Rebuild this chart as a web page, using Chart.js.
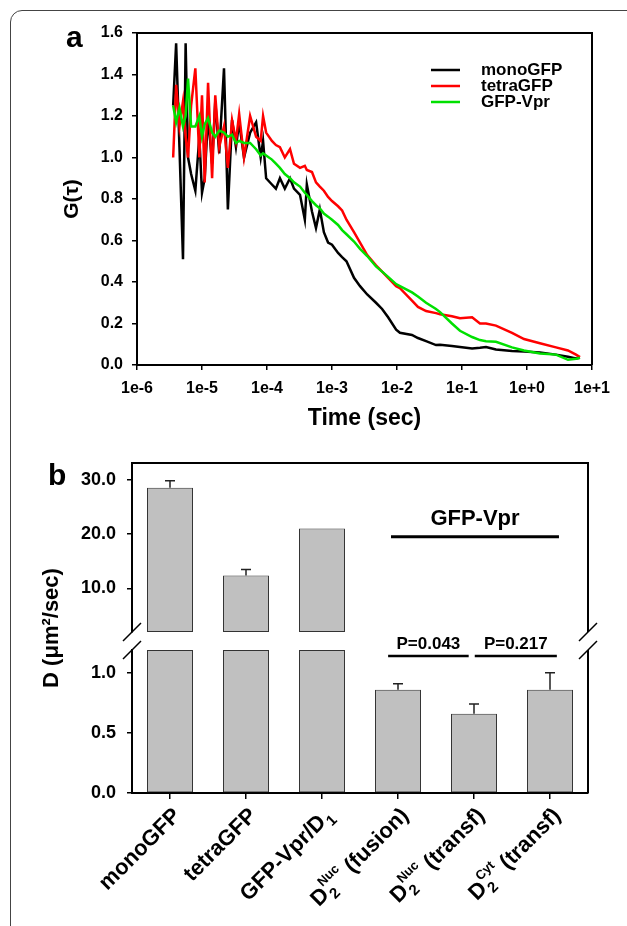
<!DOCTYPE html>
<html><head><meta charset="utf-8">
<script src="https://cdn.jsdelivr.net/npm/chart.js@4.4.1/dist/chart.umd.min.js"></script>
<style>
html,body{margin:0;padding:0;background:#fff;}
body{width:627px;height:926px;position:relative;overflow:hidden;}
#frame{position:absolute;left:10px;top:10px;width:700px;height:1000px;border:1px solid #444;border-radius:12px;box-sizing:border-box;}
#ca{position:absolute;left:0;top:0;width:627px;height:440px;}
#cb{position:absolute;left:0;top:440px;width:627px;height:486px;}
</style></head><body>
<div id="frame"></div>
<canvas id="ca" width="627" height="440"></canvas>
<canvas id="cb" width="627" height="486"></canvas>
<script>
// ---------- Panel a data ----------
const seriesNames = ['monoGFP', 'tetraGFP', 'GFP-Vpr'];
const lagTimes = [3.6e-6, 4.0e-6, 4.5e-6, 5.1e-6, 5.6e-6, 6.1e-6, 6.8e-6, 7.9e-6, 9.1e-6, 1.0e-5,
  1.1e-5, 1.24e-5, 1.43e-5, 1.6e-5, 1.84e-5, 2.18e-5, 2.5e-5, 2.9e-5, 3.33e-5, 3.73e-5,
  4.43e-5, 5.5e-5, 6.8e-5, 8.0e-5, 8.7e-5, 9.7e-5, 1.19e-4, 1.37e-4, 1.58e-4, 1.88e-4,
  2.26e-4, 2.6e-4, 3.22e-4, 3.82e-4, 4.1e-4, 4.92e-4, 5.67e-4, 6.5e-4, 7.5e-4, 8.7e-4,
  1.0e-3, 1.24e-3, 1.43e-3, 1.67e-3, 2.18e-3, 2.7e-3, 3.48e-3, 4.75e-3, 5.9e-3, 7.3e-3,
  9.7e-3, 1.11e-2, 1.7e-2, 2.1e-2, 2.8e-2, 3.98e-2, 4.6e-2, 7.0e-2, 9.3e-2, 0.143,
  0.189, 0.234, 0.333, 0.588, 0.9, 1.58, 2.79, 4.27, 5.67, 6.53];
const gMono = [1.25, 1.55, 1.05, 0.51, 1.55, 1.0, 0.92, 0.84, 1.1, 0.83,
  0.9, 1.2, 0.97, 1.27, 1.02, 1.43, 0.75, 1.18, 1.05, 1.17,
  1.0, 1.12, 1.17, 1.0, 1.08, 0.9, 0.87, 0.85, 0.9, 0.85,
  0.9, 0.85, 0.82, 0.7, 0.87, 0.74, 0.66, 0.75, 0.64, 0.59,
  0.58, 0.54, 0.52, 0.5, 0.42, 0.38, 0.34, 0.3, 0.27, 0.23,
  0.17, 0.155, 0.145, 0.13, 0.115, 0.096, 0.098, 0.092, 0.087, 0.08,
  0.083, 0.087, 0.075, 0.068, 0.065, 0.06, 0.05, 0.04, 0.032, 0.035];
const gTetra = [1.0, 1.35, 1.15, 1.27, 1.1, 1.0, 1.25, 1.43, 1.0, 1.3,
  0.88, 1.36, 0.9, 1.3, 1.05, 1.15, 0.95, 1.18, 1.08, 1.21,
  1.0, 1.2, 1.1, 1.08, 1.2, 1.12, 1.08, 1.06, 1.05, 1.0,
  1.04, 0.97, 0.95, 0.96, 0.94, 0.93, 0.88, 0.86, 0.84, 0.81,
  0.79, 0.765, 0.745, 0.70, 0.64, 0.59, 0.53, 0.48, 0.45, 0.42,
  0.38, 0.37, 0.31, 0.28, 0.26, 0.25, 0.245, 0.235, 0.225, 0.23,
  0.2, 0.2, 0.19, 0.155, 0.125, 0.105, 0.085, 0.07, 0.05, 0.038];
const gVpr = [1.25, 1.17, 1.24, 1.15, 1.2, 1.38, 1.15, 1.15, 1.2, 1.1,
  1.16, 1.19, 1.12, 1.1, 1.13, 1.12, 1.1, 1.11, 1.07, 1.08,
  1.07, 1.07, 1.04, 1.01, 1.02, 1.01, 0.99, 0.97, 0.95, 0.92,
  0.9, 0.88, 0.86, 0.83, 0.82, 0.79, 0.77, 0.755, 0.73, 0.715,
  0.70, 0.675, 0.65, 0.63, 0.595, 0.56, 0.525, 0.475, 0.45, 0.425,
  0.39, 0.38, 0.35, 0.33, 0.30, 0.27, 0.255, 0.2, 0.165, 0.135,
  0.12, 0.115, 0.112, 0.085, 0.07, 0.055, 0.05, 0.025, 0.03, 0.035];
const timeTicks = [1e-6, 1e-5, 1e-4, 1e-3, 1e-2, 1e-1, 1e0, 1e1];
const timeTickLabels = ['1e-6', '1e-5', '1e-4', '1e-3', '1e-2', '1e-1', '1e+0', '1e+1'];
const gTicks = [0, 0.2, 0.4, 0.6, 0.8, 1.0, 1.2, 1.4, 1.6];

// ---------- Panel b data ----------
const categories = ['monoGFP', 'tetraGFP', 'GFP-Vpr/D_{1}', 'D_{2}^{Nuc} (fusion)', 'D_{2}^{Nuc} (transf)', 'D_{2}^{Cyt} (transf)'];
const diffValues = [28.5, 12.4, 21.0, 0.86, 0.66, 0.86];
const diffErrors = [1.3, 1.1, null, 0.05, 0.08, 0.14];
const upperTicks = [10, 20, 30];
const lowerTicks = [0, 0.5, 1.0];
const groupLabel = 'GFP-Vpr';
const pLabels = ['P=0.043', 'P=0.217'];
const pPairs = [[3, 4], [4, 5]];

// ---------- common ----------
const FONT = "'Liberation Sans', Arial, Helvetica, sans-serif";
Chart.defaults.font.family = FONT;
Chart.defaults.color = '#000';
const bold = (s) => ({ size: s, weight: 'bold', family: FONT });

// ---------- Panel a ----------
const frameA = {
  id: 'frameA',
  afterDatasetsDraw(chart) {
    const { ctx, chartArea: a } = chart;
    ctx.save();
    ctx.strokeStyle = '#000'; ctx.lineWidth = 2;
    ctx.beginPath();
    ctx.moveTo(a.left, a.top); ctx.lineTo(a.right, a.top); ctx.lineTo(a.right, a.bottom);
    ctx.stroke();
    // legend
    const ds = chart.data.datasets;
    ctx.font = 'bold 17px ' + FONT;
    ctx.textBaseline = 'middle'; ctx.textAlign = 'left';
    ds.forEach((d, i) => {
      const y = a.top + 37 + i * 16;
      ctx.strokeStyle = d.borderColor; ctx.lineWidth = 2.5;
      ctx.beginPath(); ctx.moveTo(a.left + 294, y); ctx.lineTo(a.left + 323, y); ctx.stroke();
      ctx.fillStyle = '#000';
      ctx.fillText(d.label, a.left + 344, y);
    });
    // panel letter
    ctx.font = 'bold 30px ' + FONT;
    ctx.textBaseline = 'alphabetic';
    ctx.fillText('a', 66, 47);
    ctx.restore();
  }
};

const mk = (vals) => lagTimes.map((t, i) => ({ x: t, y: vals[i] }));
new Chart(document.getElementById('ca'), {
  type: 'line',
  data: {
    datasets: [
      { label: seriesNames[0], data: mk(gMono), borderColor: '#000000', borderWidth: 2.5, pointRadius: 0, order: 3 },
      { label: seriesNames[1], data: mk(gTetra), borderColor: '#ff0000', borderWidth: 2.5, pointRadius: 0, order: 2 },
      { label: seriesNames[2], data: mk(gVpr), borderColor: '#00e000', borderWidth: 2.5, pointRadius: 0, order: 1 }
    ]
  },
  options: {
    responsive: false, animation: false, events: [],
    layout: { padding: { top: 33, right: 35, left: 0, bottom: 0 } },
    plugins: { legend: { display: false }, tooltip: { enabled: false } },
    scales: {
      x: {
        type: 'logarithmic', min: 1e-6, max: 10,
        afterBuildTicks(s) { s.ticks = timeTicks.map(v => ({ value: v })); },
        afterFit(s) { s.height = 75; },
        ticks: { callback: (v, i) => timeTickLabels[i], font: bold(16), color: '#000', padding: 9, maxRotation: 0, autoSkip: false },
        grid: { drawOnChartArea: false, tickLength: 5, color: '#000', lineWidth: 1.5 },
        border: { color: '#000', width: 2 },
        title: { display: true, text: 'Time (sec)', font: bold(23), color: '#000', padding: { top: 0, bottom: 8 } }
      },
      y: {
        min: 0, max: 1.6,
        afterBuildTicks(s) { s.ticks = gTicks.map(v => ({ value: v })); },
        afterFit(s) { s.width = 137; },
        ticks: { callback: v => v.toFixed(1), font: bold(16), color: '#000', padding: 9 },
        grid: { drawOnChartArea: false, tickLength: 5, color: '#000', lineWidth: 1.5 },
        border: { color: '#000', width: 2 },
        title: { display: true, text: 'G(τ)', font: bold(21), color: '#000', padding: { top: 60, bottom: 0 } }
      }
    }
  },
  plugins: [frameA]
});

// ---------- Panel b ----------
const upperMin = 2.0, upperMax = 33.05, lowerMax = 1.19;

function parseLabel(s) {
  const segs = [];
  const re = /_\{([^}]*)\}|\^\{([^}]*)\}|([^_^]+)/g;
  let m;
  while ((m = re.exec(s))) {
    if (m[1] !== undefined) segs.push({ sub: m[1] });
    else if (m[2] !== undefined) {
      const last = segs[segs.length - 1];
      if (last && last.sub !== undefined && last.sup === undefined) last.sup = m[2];
      else segs.push({ sup: m[2] });
    } else segs.push({ t: m[3] });
  }
  return segs;
}

const decorB = {
  id: 'decorB',
  afterDatasetsDraw(chart) {
    const { ctx, chartArea: a } = chart;
    const xS = chart.scales.x, yT = chart.scales.yTop, yB = chart.scales.yBot;
    ctx.save();
    ctx.strokeStyle = '#000'; ctx.fillStyle = '#000';
    // frame
    ctx.lineWidth = 2;
    ctx.beginPath();
    ctx.moveTo(a.left - 1, yT.top); ctx.lineTo(a.right, yT.top); ctx.lineTo(a.right, yT.bottom);
    ctx.moveTo(a.right, yB.top); ctx.lineTo(a.right, yB.bottom);
    ctx.stroke();
    // break marks
    ctx.lineWidth = 1.5;
    ctx.beginPath();
    [a.left, a.right].forEach(x => {
      [yT.bottom, yB.top].forEach(y => { ctx.moveTo(x - 9, y + 9); ctx.lineTo(x + 9, y - 9); });
    });
    ctx.stroke();
    // error bars
    ctx.lineWidth = 1.5; ctx.strokeStyle = '#222';
    diffValues.forEach((v, i) => {
      const e = diffErrors[i];
      if (e == null) return;
      const sc = v > lowerMax ? yT : yB;
      const x = xS.getPixelForValue(i);
      const y0 = sc.getPixelForValue(v), y1 = sc.getPixelForValue(v + e);
      ctx.beginPath();
      ctx.moveTo(x, y0); ctx.lineTo(x, y1);
      ctx.moveTo(x - 5, y1); ctx.lineTo(x + 5, y1);
      ctx.stroke();
    });
    // group annotation
    ctx.strokeStyle = '#000';
    ctx.lineWidth = 3;
    const gx0 = xS.getPixelForValue(2.908), gx1 = xS.getPixelForValue(5.118), gy = yT.getPixelForValue(19.5);
    ctx.beginPath(); ctx.moveTo(gx0, gy); ctx.lineTo(gx1, gy); ctx.stroke();
    ctx.font = 'bold 22px ' + FONT; ctx.textAlign = 'center'; ctx.textBaseline = 'middle';
    ctx.fillText(groupLabel, (gx0 + gx1) / 2, gy - 18);
    // p values
    ctx.lineWidth = 2.5;
    ctx.font = 'bold 17px ' + FONT;
    const pOff = [[-0.13, -0.07], [0.01, 0.09]];
    pPairs.forEach((pr, k) => {
      const x0 = xS.getPixelForValue(pr[0] + pOff[k][0]), x1 = xS.getPixelForValue(pr[1] + pOff[k][1]);
      const y = yB.getPixelForValue(1.14);
      ctx.beginPath(); ctx.moveTo(x0, y); ctx.lineTo(x1, y); ctx.stroke();
      ctx.fillText(pLabels[k], (x0 + x1) / 2, y - 12);
    });
    // x labels (rotated, rich text)
    const mainF = 'bold 22px ' + FONT, subF = 'bold 15px ' + FONT, supF = 'bold 13px ' + FONT;
    chart.data.labels.forEach((lab, i) => {
      const segs = parseLabel(lab);
      let w = 0;
      segs.forEach(sg => {
        if (sg.t !== undefined) { ctx.font = mainF; sg.w = ctx.measureText(sg.t).width; }
        else {
          ctx.font = subF; const w1 = sg.sub ? ctx.measureText(sg.sub).width : 0;
          ctx.font = supF; const w2 = sg.sup ? ctx.measureText(sg.sup).width : 0;
          sg.w = Math.max(w1, w2) + 1;
        }
        w += sg.w;
      });
      ctx.save();
      ctx.translate(xS.getPixelForValue(i) + 6, xS.top + 18);
      ctx.rotate(-Math.PI / 4);
      ctx.textAlign = 'left'; ctx.textBaseline = 'alphabetic';
      let cx = -w;
      const base = 8;
      segs.forEach(sg => {
        if (sg.t !== undefined) { ctx.font = mainF; ctx.fillText(sg.t, cx, base); }
        else {
          if (sg.sub) { ctx.font = subF; ctx.fillText(sg.sub, cx + 1, base + 6); }
          if (sg.sup) { ctx.font = supF; ctx.fillText(sg.sup, cx + 1, base - 12); }
        }
        cx += sg.w;
      });
      ctx.restore();
    });
    // y title
    ctx.save();
    ctx.translate(52, (a.top + a.bottom) / 2);
    ctx.rotate(-Math.PI / 2);
    ctx.font = 'bold 22px ' + FONT; ctx.textAlign = 'center'; ctx.textBaseline = 'middle';
    ctx.fillText('D (μm²/sec)', 0, 0);
    ctx.restore();
    // panel letter
    ctx.font = 'bold 30px ' + FONT; ctx.textAlign = 'left'; ctx.textBaseline = 'alphabetic';
    ctx.fillText('b', 48, 45);
    ctx.restore();
  }
};

const barStyle = { backgroundColor: '#c0c0c0', borderColor: '#333', borderWidth: 1, borderSkipped: false, grouped: false, categoryPercentage: 1, barPercentage: 0.605 };
new Chart(document.getElementById('cb'), {
  type: 'bar',
  data: {
    labels: categories,
    datasets: [
      Object.assign({ label: 'upper', yAxisID: 'yTop', data: diffValues.map(v => v > upperMin ? [upperMin, v] : null) }, barStyle),
      Object.assign({ label: 'lower', yAxisID: 'yBot', data: diffValues.map(v => Math.min(v, lowerMax)) }, barStyle)
    ]
  },
  options: {
    responsive: false, animation: false, events: [],
    layout: { padding: { top: 23, right: 39, left: 0, bottom: 0 } },
    plugins: { legend: { display: false }, tooltip: { enabled: false } },
    scales: {
      x: {
        type: 'category', offset: true,
        afterFit(s) { s.height = 133; },
        ticks: { display: false },
        grid: { drawOnChartArea: false, tickLength: 6, color: '#000', lineWidth: 1.5, offset: false },
        border: { color: '#000', width: 2 }
      },
      yBot: {
        position: 'left', stack: 'b', stackWeight: 143, weight: 1, min: 0, max: lowerMax,
        afterBuildTicks(s) { s.ticks = lowerTicks.map(v => ({ value: v })); },
        afterFit(s) { s.width = 132; },
        ticks: { callback: v => v.toFixed(1), font: bold(18), color: '#000', padding: 11 },
        grid: { drawOnChartArea: false, tickLength: 5, color: '#000', lineWidth: 1.5 },
        border: { color: '#000', width: 2 }
      },
      yGap: {
        position: 'left', stack: 'b', stackWeight: 18, weight: 2, min: 0, max: 1,
        afterFit(s) { s.width = 132; },
        ticks: { display: false }, grid: { display: false }, border: { display: false }
      },
      yTop: {
        position: 'left', stack: 'b', stackWeight: 169, weight: 3, min: upperMin, max: upperMax,
        afterBuildTicks(s) { s.ticks = upperTicks.map(v => ({ value: v })); },
        afterFit(s) { s.width = 132; },
        ticks: { callback: v => v.toFixed(1), font: bold(18), color: '#000', padding: 11 },
        grid: { drawOnChartArea: false, tickLength: 5, color: '#000', lineWidth: 1.5 },
        border: { color: '#000', width: 2 }
      }
    }
  },
  plugins: [decorB]
});
</script></body></html>
